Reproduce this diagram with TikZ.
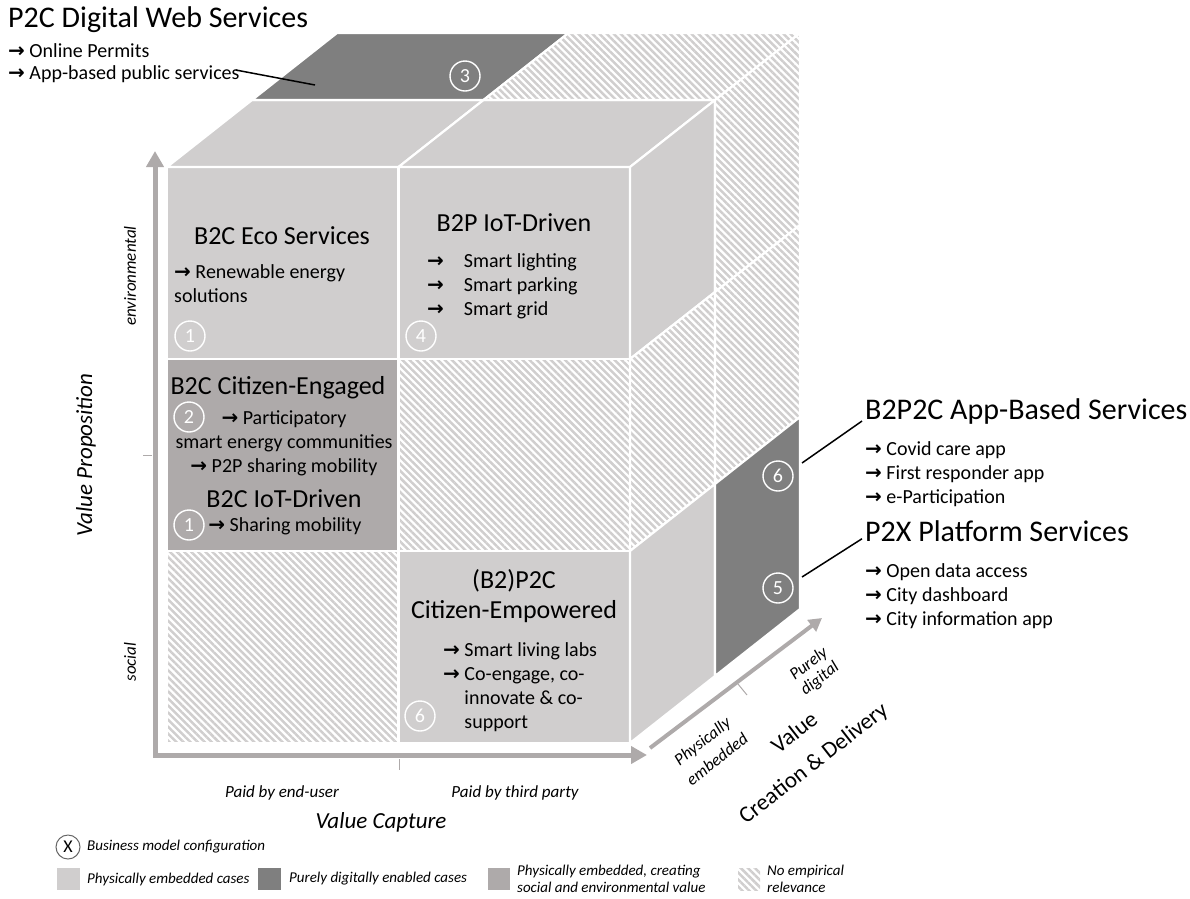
\documentclass[tikz,border=0pt]{standalone}
\usepackage{fontspec}
\setmainfont{Carlito}
\newfontfamily\arrowfont{DejaVu Sans}
\usepackage{tikz}
\usetikzlibrary{arrows.meta,patterns.meta,calc}

\definecolor{physGray}{HTML}{D0CECE}
\definecolor{digiGray}{HTML}{7F7F7F}
\definecolor{socEnvGray}{HTML}{AEAAAA}
\definecolor{axisGray}{HTML}{AEAAAA}
\definecolor{hatchGray}{HTML}{D0CECE}

\newcommand{\goesto}{{\arrowfont\bfseries →}}

\tikzset{
  face/.style={draw=white, line width=2.2pt, line join=round},
  phys/.style={face, fill=physGray},
  digi/.style={face, fill=digiGray},
  socenv/.style={face, fill=socEnvGray},
  norel/.style={face, pattern={Lines[angle=-45,distance=5pt,line width=2.5pt]}, pattern color=hatchGray},
  config/.style={circle, draw=white, line width=1.4pt, text=white, minimum size=30pt, inner sep=0pt, font=\fontsize{20}{20}\selectfont},
  axis/.style={draw=axisGray, line width=5pt, line join=miter},
  tick/.style={draw=axisGray, line width=1pt},
  lead/.style={draw=black, line width=1.5pt},
  bigtitle/.style={font=\fontsize{30}{32}\selectfont, inner sep=0pt, anchor=west},
  celltitle/.style={font=\fontsize{26}{30}\selectfont, inner sep=0pt, align=center},
  item/.style={font=\fontsize{20}{24}\selectfont, inner sep=0pt},
  axislabel/.style={font=\itshape\fontsize{17}{19}\selectfont, inner sep=0pt, align=center},
  axistitle/.style={font=\itshape\fontsize{23}{25}\selectfont, inner sep=0pt, align=center},
  legendtext/.style={font=\itshape\fontsize{15}{17}\selectfont, inner sep=0pt, anchor=west, align=left},
}

\begin{document}
\begin{tikzpicture}[x=1pt,y=-1pt]
\useasboundingbox (0,0) rectangle (1190,898);

\def\cellW{231.5}
\def\cellH{192}
\def\depthX{85}
\def\depthY{67}

% grid corners: column i, row j, layer k
\foreach \i in {0,1,2}
  \foreach \j in {0,...,3}
    \foreach \k in {0,1,2}
      \coordinate (p\i\j\k) at ({167+\i*\cellW+\k*\depthX},{167+\j*\cellH-\k*\depthY});

% front faces
\foreach \i/\j/\kind in {0/0/phys,1/0/phys,0/1/socenv,1/1/norel,0/2/norel,1/2/phys}
{
  \pgfmathtruncatemacro\ii{\i+1}
  \pgfmathtruncatemacro\jj{\j+1}
  \draw[\kind] (p\i\j0) -- (p\ii\j0) -- (p\ii\jj0) -- (p\i\jj0) -- cycle;
}

% top faces
\foreach \i/\k/\kind in {0/0/phys,1/0/phys,0/1/digi,1/1/norel}
{
  \pgfmathtruncatemacro\ii{\i+1}
  \pgfmathtruncatemacro\kk{\k+1}
  \draw[\kind] (p\i0\k) -- (p\ii0\k) -- (p\ii0\kk) -- (p\i0\kk) -- cycle;
}

% right faces
\foreach \j/\k/\kind in {0/0/phys,1/0/norel,2/0/phys,0/1/norel,1/1/norel,2/1/digi}
{
  \pgfmathtruncatemacro\jj{\j+1}
  \pgfmathtruncatemacro\kk{\k+1}
  \draw[\kind] (p2\j\k) -- (p2\j\kk) -- (p2\jj\kk) -- (p2\jj\k) -- cycle;
}

% the three axes
\draw[axis, {Triangle[width=17pt,length=16pt]}-{Triangle[width=17pt,length=16pt]}] (155,151) -- (155,755) -- (647,755);
\draw[axis, line width=4pt, -{Triangle[width=14pt,length=13pt]}] (650,748) -- (822,618);
\draw[tick] (143,455) -- (152,455);
\draw[tick] (399,759) -- (399,770);
\draw[tick] (738,684) -- (747,695);

% axis labels
\node[axislabel, rotate=90] (envLbl) at (130,276) {environmental};
\node[axislabel, rotate=90] (socLbl) at (130,662) {social};
\node[axistitle, rotate=90] (propLbl) at (86,455) {Value Proposition};
\node[axislabel] (endUser) at (282,793) {Paid by end-user};
\node[axislabel] (thirdParty) at (515,793) {Paid by third party};
\node[axistitle] (captureLbl) at (381,822) {Value Capture};
\node[axislabel, rotate=38] (embLbl1) at (703,742) {Physically};
\node[axislabel, rotate=38] (embLbl2) at (717,759) {embedded};
\node[axislabel, rotate=38] (digLbl1) at (809,664) {Purely};
\node[axislabel, rotate=38] (digLbl2) at (820,679) {digital};
\node[axistitle, font=\fontsize{23}{25}\selectfont, rotate=38] (deliveryLbl1) at (794,732) {Value};
\node[axistitle, font=\fontsize{23}{25}\selectfont, rotate=38] (deliveryLbl2) at (814,764) {Creation \& Delivery};

% business model cells
\node[celltitle] (ecoTitle) at (282,236) {B2C Eco Services};
\node[item, anchor=north west, align=left] (ecoList) at (174,264) {\goesto{} Renewable energy\\solutions};
\node[config] (cfgEco) at (190,336) {1};

\node[celltitle] (iotTitle) at (514,223) {B2P IoT-Driven};
\node[item, anchor=north west, align=left] (iotList) at (427,253) {\goesto\quad Smart lighting\\\goesto\quad Smart parking\\\goesto\quad Smart grid};
\node[config] (cfgIot) at (421,336) {4};

\node[celltitle] (engTitle) at (278,388) {B2C Citizen-Engaged};
\node[config] (cfgEng) at (189,417) {2};
\node[item] (engItem1) at (284,419) {\goesto{} Participatory};
\node[item] (engItem2) at (284,443) {smart energy communities};
\node[item] (engItem3) at (284,467) {\goesto{} P2P sharing mobility};
\node[celltitle] (mobTitle) at (284,499) {B2C IoT-Driven};
\node[config] (cfgMob) at (189,525) {1};
\node[item] (mobList) at (285,526) {\goesto{} Sharing mobility};

\node[celltitle] (empTitle) at (514,596) {(B2)P2C\\Citizen-Empowered};
\node[item, anchor=north west, align=left] (empList) at (443,642) {\goesto{} Smart living labs\\\goesto{} Co-engage, co-\\\phantom{\goesto\ }innovate \& co-\\\phantom{\goesto\ }support};
\node[config] (cfgEmp) at (420,716) {6};

% digital layer
\node[config] (cfgWeb) at (465,76) {3};
\node[config] (cfgApp) at (778,476) {6};
\node[config] (cfgPlat) at (778,588) {5};

% service descriptions outside the cube
\node[bigtitle] (webTitle) at (8,20) {P2C Digital Web Services};
\node[item, anchor=west] (webPermits) at (8,51) {\goesto{} Online Permits};
\node[item, anchor=west] (webApps) at (8,74) {\goesto{}  App-based public services};
\coordinate (webEnd) at (315,85);
\draw[lead] ([xshift=-4pt,yshift=4pt]webApps.east) -- (webEnd);

\node[bigtitle] (appTitle) at (865,411) {B2P2C App-Based Services};
\node[item, anchor=north west, align=left] (appList) at (865,441) {\goesto{} Covid care app\\\goesto{} First responder app\\\goesto{} e-Participation};
\node[bigtitle] (platTitle) at (865,531) {P2X Platform Services};
\node[item, anchor=north west, align=left] (platList) at (865,563) {\goesto{} Open data access\\\goesto{} City dashboard\\\goesto{} City information app};
\coordinate (appStart) at (802,463);
\coordinate (platStart) at (802,577);
\draw[lead] (appStart) -- ([xshift=-3pt,yshift=3pt]appTitle.south west);
\draw[lead] (platStart) -- ([xshift=-3pt,yshift=3pt]platTitle.south west);

% legend
\node[circle, draw=black!60, line width=1pt, minimum size=24pt, inner sep=0pt, font=\fontsize{18}{18}\selectfont] (keyCfg) at (68,847) {X};
\node[legendtext] (keyCfgTxt) at (87,847) {Business model configuration};
\fill[physGray] (57,868) rectangle (80,890);
\node[legendtext] (keyPhys) at (87,879) {Physically embedded cases};
\fill[digiGray] (258,868) rectangle (281,890);
\node[legendtext] (keyDigi) at (289,879) {Purely digitally enabled cases};
\fill[socEnvGray] (488,868) rectangle (510,890);
\node[legendtext] (keySocEnv) at (517,879) {Physically embedded, creating\\social and environmental value};
\fill[pattern={Lines[angle=-45,distance=5pt,line width=2.5pt]}, pattern color=hatchGray] (738,868) rectangle (760,890);
\node[legendtext] (keyNoRel) at (767,879) {No empirical\\relevance};

\end{tikzpicture}
\end{document}
